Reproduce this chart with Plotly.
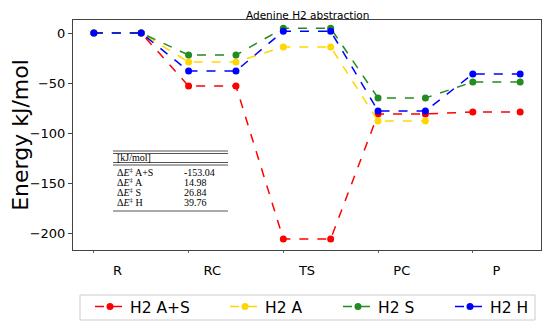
import plotly.graph_objects as go

x_pos = [0, 1, 2, 3, 4, 5, 6, 7, 8, 9]
state_pos = [0.5, 2.5, 4.5, 6.5, 8.5]
state_labels = ["R", "RC", "TS", "PC", "P"]

names = ["H2 A+S", "H2 A", "H2 S", "H2 H"]
colors = ["red", "gold", "forestgreen", "blue"]
e_as = [0, 0, -53, -53, -206, -206, -81, -81, -79, -79]
e_a = [0, 0, -29, -29, -14, -14, -88, -88, None, None]
e_s = [0, 0, -22, -22, 4.8, 4.8, -65, -65, -49, -49]
e_h = [0, 0, -38, -38, 1.8, 1.8, -78, -78, -41, -41]
series = [e_as, e_a, e_s, e_h]

y_ticks = [0, -50, -100, -150, -200]
tbl_labels = ["A+S", "A", "S", "H"]
tbl_values = ["-153.04", "14.98", "26.84", "39.76"]

# plot-area geometry in screen pixels (page body adds an 8px offset)
OFF = 8
L, T, W, H = 73, 20, 468, 230
def px(x):
    return (x - L) / W
def py(y):
    return 1 - (y - T) / H

legend_ids = ["legend", "legend2", "legend3", "legend4"]
legend_x = [90, 225, 338, 450]

fig = go.Figure()
for n, c, ys, lid in zip(names, colors, series, legend_ids):
    fig.add_trace(go.Scatter(x=x_pos, y=ys, name=n, mode="lines+markers", legend=lid,
                             line=dict(color=c, dash="dash", width=1.5),
                             marker=dict(color=c, size=7)))

layout_legends = {}
for lid, lx in zip(legend_ids, legend_x):
    layout_legends[lid] = dict(x=px(lx), xanchor="left", y=py(307), yanchor="middle",
                               xref="paper", yref="paper",
                               borderwidth=0, bgcolor="rgba(0,0,0,0)",
                               font=dict(size=15.5), itemwidth=30)

fig.update_layout(
    width=550, height=330,
    margin=dict(l=L - OFF, r=550 - (L - OFF) - W, t=T - OFF, b=330 - (T - OFF) - H,
                autoexpand=False),
    paper_bgcolor="white", plot_bgcolor="white",
    font=dict(family="DejaVu Sans", color="black"),
    showlegend=True,
    **layout_legends,
)
# title placed as a paper annotation just above the plot frame
fig.add_annotation(text="Adenine H2 abstraction", xref="paper", yref="paper",
                   x=px(307), y=py(14.5), xanchor="center", yanchor="middle",
                   showarrow=False, font=dict(size=10.5), borderpad=0)

fig.add_shape(type="rect", xref="paper", yref="paper", x0=px(80), x1=px(535),
              y0=py(320), y1=py(295), line=dict(color="#cccccc", width=1), layer="below")

fig.update_xaxes(range=[-0.44, 9.44], tickvals=state_pos, ticktext=state_labels,
                 showline=True, linecolor="#444", mirror=True, showgrid=False,
                 zeroline=False, ticks="", tickfont=dict(size=13), automargin=False,
                 ticklabelstandoff=8,
                 minor=dict(tickmode="array", tickvals=[0, 2, 4, 6, 8], ticks="outside",
                            ticklen=2, tickcolor="#666", showgrid=False))
fig.update_yaxes(range=[-217, 13], tickvals=y_ticks,
                 ticktext=[("−" + str(-v)) if v < 0 else str(v) for v in y_ticks],
                 showline=True, linecolor="#444", mirror=True, showgrid=False,
                 zeroline=False, ticks="outside", ticklen=4, tickcolor="#444",
                 tickfont=dict(size=13), automargin=False,
                 title=dict(text="Energy kJ/mol", font=dict(size=22), standoff=5))

serif = "Liberation Serif"
for yy in [151, 153.5, 162.5, 165, 211]:
    fig.add_shape(type="line", xref="paper", yref="paper", x0=px(113), x1=px(228),
                  y0=py(yy), y1=py(yy), line=dict(color="#555", width=1))
fig.add_annotation(text="[kJ/mol]", xref="paper", yref="paper", x=px(115), y=py(157.5),
                   xanchor="left", yanchor="middle", showarrow=False,
                   font=dict(family=serif, size=10))
for i, (lab, val) in enumerate(zip(tbl_labels, tbl_values)):
    yy = 172 + 10 * i
    fig.add_annotation(text="Δ<i>E</i><sup>‡</sup> " + lab, xref="paper", yref="paper",
                       x=px(115), y=py(yy), xanchor="left", yanchor="middle",
                       showarrow=False, font=dict(family=serif, size=10))
    fig.add_annotation(text=val, xref="paper", yref="paper", x=px(182), y=py(yy),
                       xanchor="left", yanchor="middle", showarrow=False,
                       font=dict(family=serif, size=10))

fig.write_html("out.html")
